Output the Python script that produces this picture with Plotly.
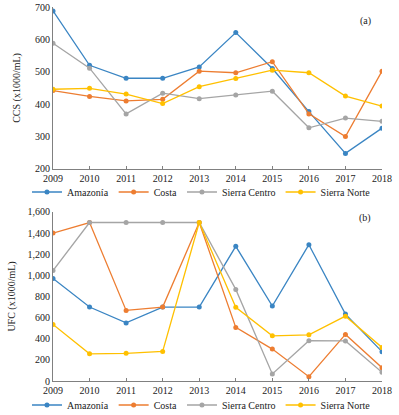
import plotly.graph_objects as go

years = [2009, 2010, 2011, 2012, 2013, 2014, 2015, 2016, 2017, 2018]
series_names = ["Amazonía", "Costa", "Sierra Centro", "Sierra Norte"]

ccs_amazonia = [688, 520, 480, 480, 515, 621, 510, 377, 248, 326]
ccs_costa = [442, 424, 410, 415, 502, 497, 531, 370, 300, 502]
ccs_sierra_centro = [588, 511, 370, 434, 417, 428, 440, 327, 357, 347]
ccs_sierra_norte = [446, 449, 431, 402, 454, 479, 505, 497, 425, 394]

ufc_amazonia = [970, 700, 550, 700, 700, 1275, 710, 1290, 633, 278]
ufc_costa = [1400, 1500, 668, 700, 1500, 507, 302, 41, 441, 126]
ufc_sierra_centro = [1045, 1500, 1500, 1500, 1500, 867, 66, 381, 379, 82]
ufc_sierra_norte = [535, 257, 262, 280, 1500, 697, 428, 437, 614, 318]

colors = ["#3A85C3", "#ED7D31", "#A5A5A5", "#FFC000"]
font_family = "Liberation Serif, Times New Roman, serif"

fig = go.Figure()
ccs = [ccs_amazonia, ccs_costa, ccs_sierra_centro, ccs_sierra_norte]
ufc = [ufc_amazonia, ufc_costa, ufc_sierra_centro, ufc_sierra_norte]

for name, vals, c in zip(series_names, ccs, colors):
    fig.add_trace(go.Scatter(x=years, y=vals, name=name, mode="lines+markers",
                             line=dict(color=c, width=1.3), marker=dict(color=c, size=5),
                             xaxis="x", yaxis="y", legend="legend"))
for name, vals, c in zip(series_names, ufc, colors):
    fig.add_trace(go.Scatter(x=years, y=vals, name=name, mode="lines+markers",
                             line=dict(color=c, width=1.3), marker=dict(color=c, size=5),
                             xaxis="x2", yaxis="y2", legend="legend2"))

axis_common = dict(showgrid=False, zeroline=False, showline=True, linecolor="#808080",
                   linewidth=1, automargin=False,
                   tickfont=dict(family=font_family, size=10, color="#222"))

xdom = [53 / 399, 382 / 399]

fig.update_layout(
    width=399, height=415,
    margin=dict(l=0, r=0, t=7, b=34, autoexpand=False),
    paper_bgcolor="white", plot_bgcolor="white",
    font=dict(family=font_family, size=10, color="#222"),
    xaxis=dict(domain=xdom, anchor="y", range=[2009, 2018], tickvals=years,
               ticks="inside", ticklen=3, tickcolor="#808080", **axis_common),
    yaxis=dict(domain=[0.567, 1], anchor="x", range=[200, 700], dtick=100,
               ticks="", title=dict(text="CCS (x1000/mL)", font=dict(family=font_family, size=10), standoff=12),
               **axis_common),
    xaxis2=dict(domain=xdom, anchor="y2", range=[2009, 2018], tickvals=years,
                ticks="inside", ticklen=3, tickcolor="#808080", **axis_common),
    yaxis2=dict(domain=[0, 0.452], anchor="x2", range=[0, 1600], dtick=200, tickformat=",",
                ticks="", title=dict(text="UFC (x1000/mL)", font=dict(family=font_family, size=10), standoff=9),
                **axis_common),
    legend=dict(orientation="h", x=0.505, xanchor="center", yref="container", y=(415 - 192) / 415,
                yanchor="middle", font=dict(family=font_family, size=10), itemwidth=30,
                bgcolor="rgba(0,0,0,0)"),
    legend2=dict(orientation="h", x=0.505, xanchor="center", yref="container", y=(415 - 405) / 415,
                 yanchor="middle", font=dict(family=font_family, size=10), itemwidth=30,
                 bgcolor="rgba(0,0,0,0)"),
    annotations=[
        dict(text="(a)", xref="paper", yref="paper", x=0.935, y=0.985, showarrow=False,
             font=dict(family=font_family, size=10)),
        dict(text="(b)", xref="paper", yref="paper", x=0.935, y=0.435, showarrow=False,
             font=dict(family=font_family, size=10)),
    ],
)

fig.write_html("out.html", config={"displayModeBar": False},
               post_script="document.body.style.margin='0';")
